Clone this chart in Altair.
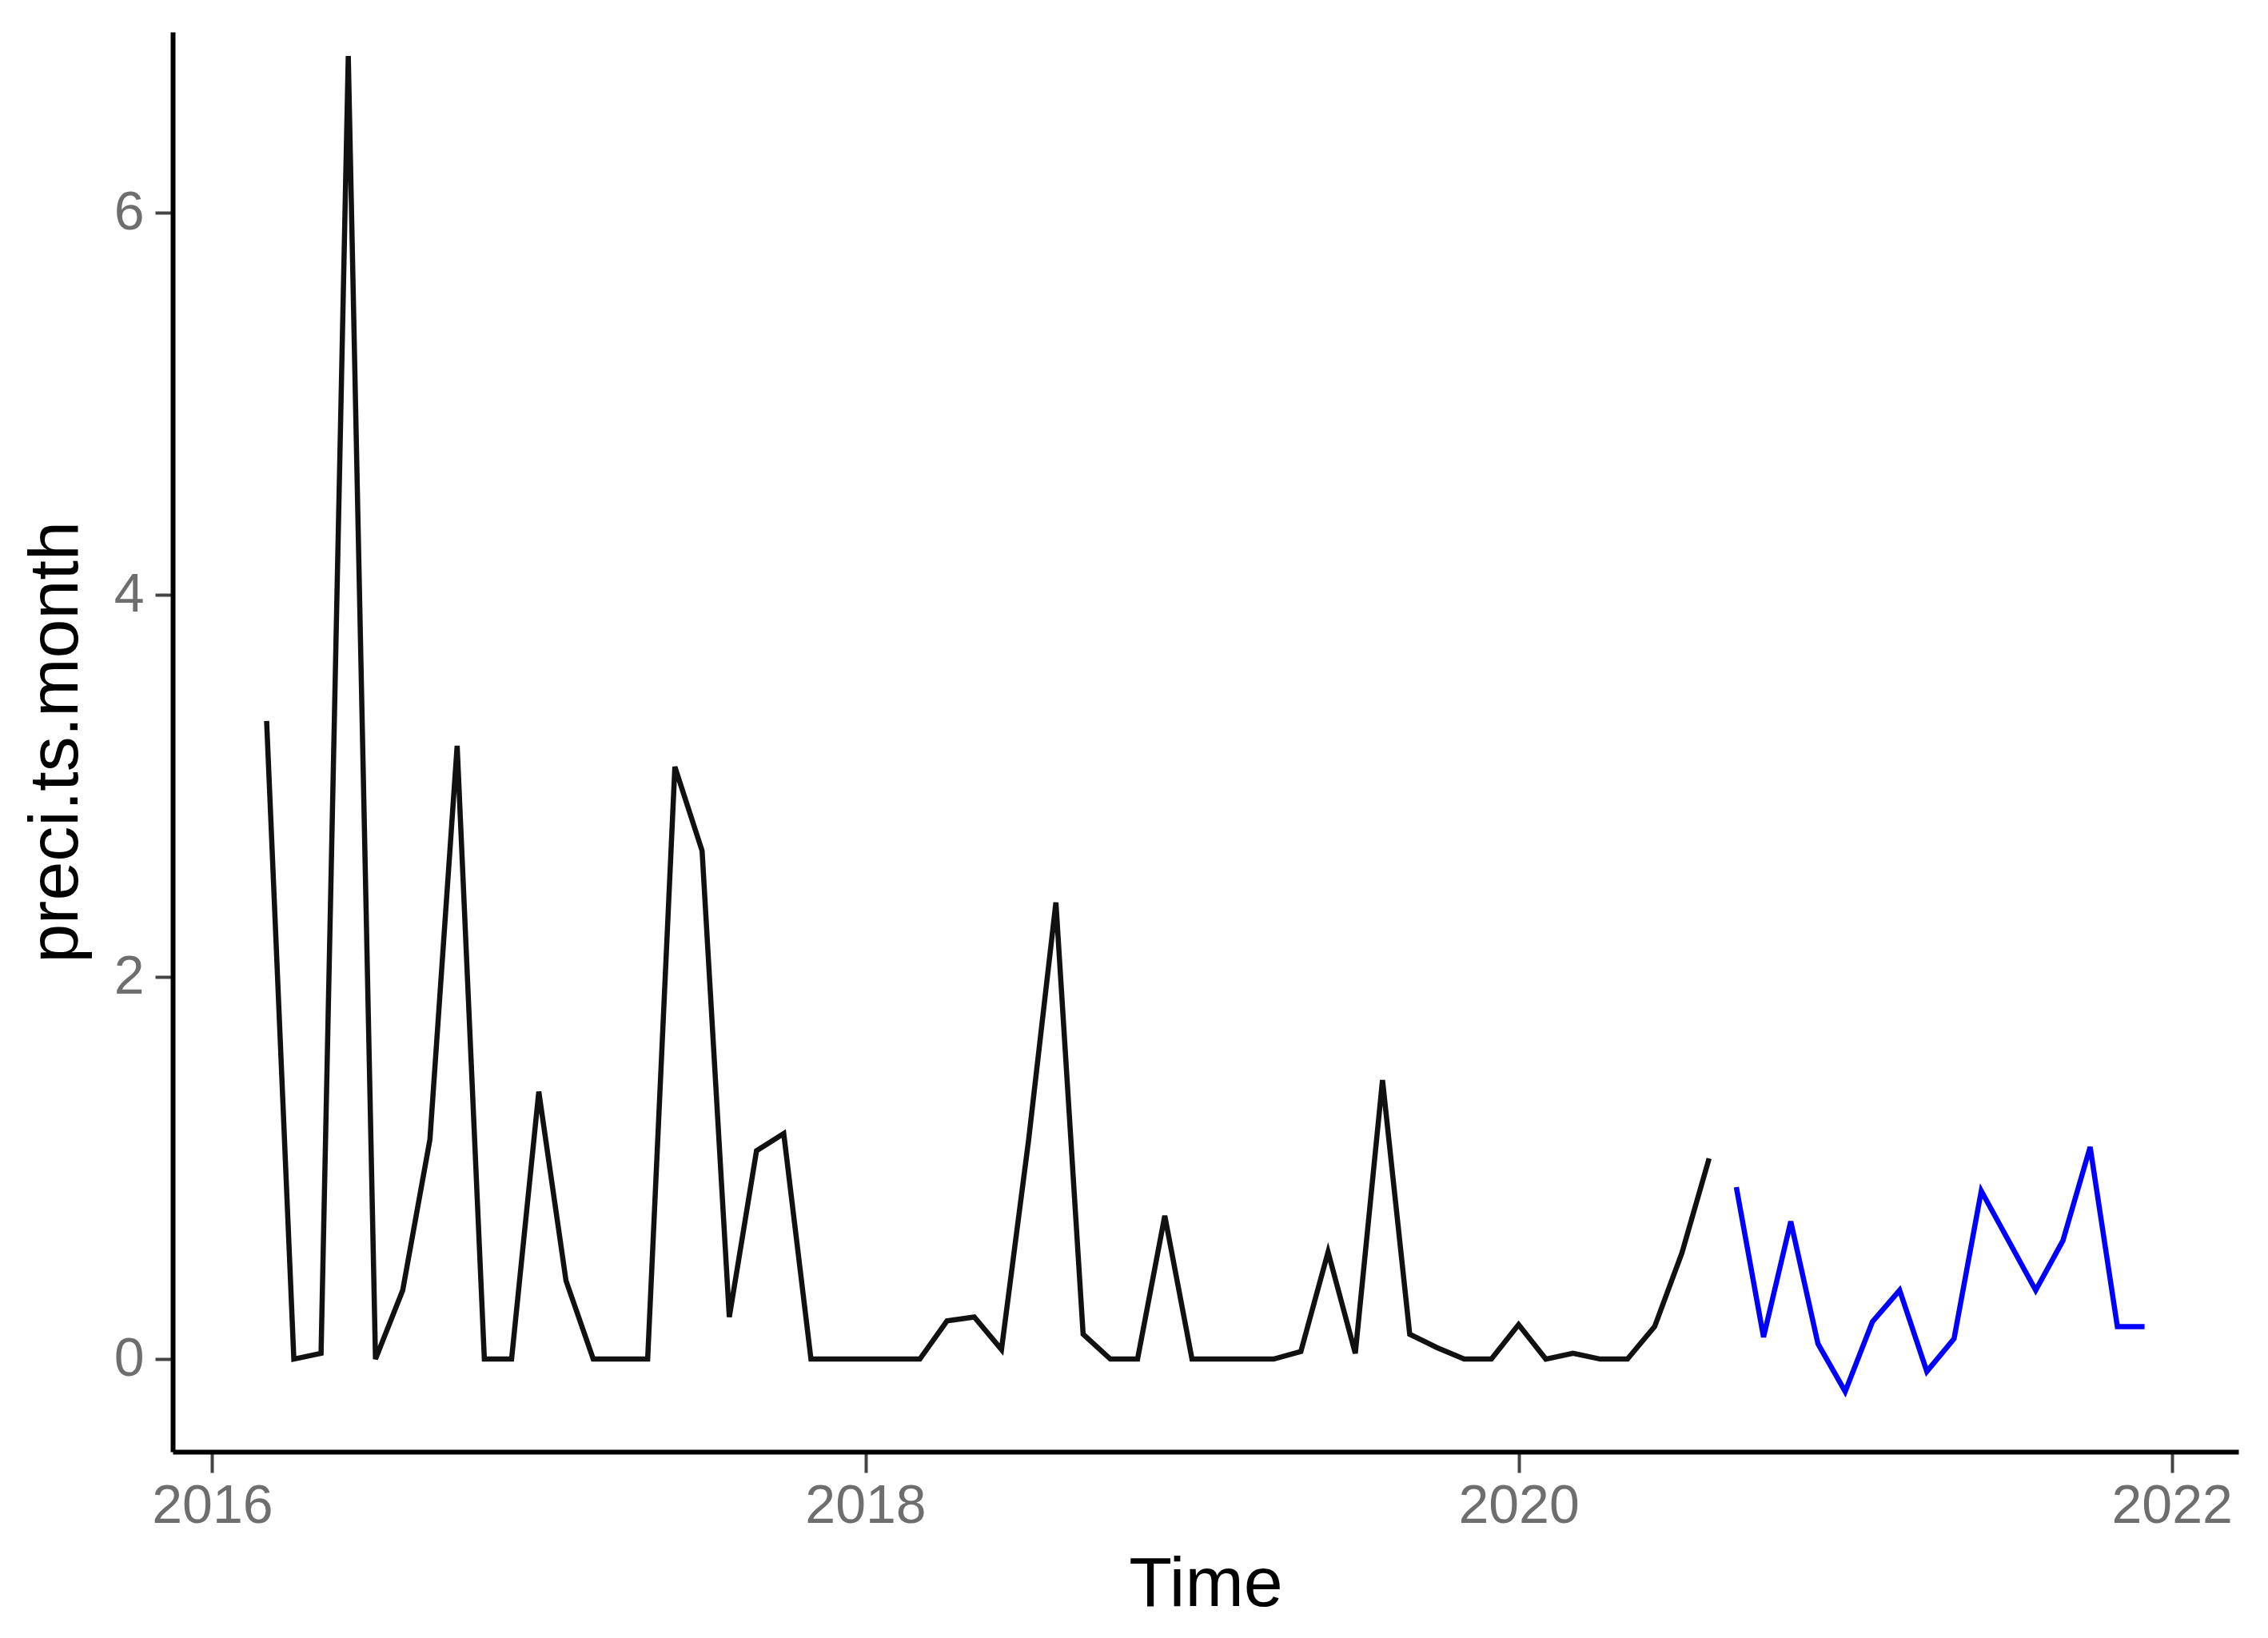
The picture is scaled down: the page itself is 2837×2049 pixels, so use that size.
import altair as alt
import pandas as pd

# observed monthly series (ts starting March 2016, frequency 12)
obs_start_year, obs_start_month = 2016, 3
obs_values = [
    3.34, 0.00, 0.03, 6.82, 0.00, 0.36, 1.15, 3.21, 0.00, 0.00,
    1.40, 0.41, 0.00, 0.00, 0.00, 3.10, 2.66, 0.22, 1.09, 1.18, 0.00, 0.00,
    0.00, 0.00, 0.00, 0.20, 0.22, 0.05, 1.15, 2.39, 0.13, 0.00, 0.00, 0.75,
    0.00, 0.00, 0.00, 0.00, 0.04, 0.56, 0.03, 1.46, 0.13, 0.06, 0.00, 0.00,
    0.18, 0.00, 0.03, 0.00, 0.00, 0.17, 0.555, 1.05,
]

# forecast series (starting September 2020)
fc_start_year, fc_start_month = 2020, 9
fc_values = [
    0.90, 0.115, 0.72, 0.08, -0.17, 0.195, 0.36, -0.065,
    0.107, 0.88, 0.62, 0.36, 0.62, 1.11, 0.17, 0.17,
]

x_ticks = [2016, 2018, 2020, 2022]
y_ticks = [0, 2, 4, 6]
x_domain = [2015.879, 2022.204]
y_domain = [-0.485, 6.946]


def ts_frame(start_year, start_month, values, name):
    t0 = start_year + (start_month - 1) / 12
    return pd.DataFrame({
        "time": [t0 + i / 12 for i in range(len(values))],
        "value": values,
        "series": name,
    })


df_obs = ts_frame(obs_start_year, obs_start_month, obs_values, "observed")
df_fc = ts_frame(fc_start_year, fc_start_month, fc_values, "forecast")

FONT = "Liberation Sans"
LABEL_COLOR = "#6e6e6e"

x_enc = alt.X(
    "time:Q",
    scale=alt.Scale(domain=x_domain, nice=False, zero=False),
    axis=alt.Axis(
        values=x_ticks, format="d", title="Time", grid=False,
        labelFontSize=68, labelColor=LABEL_COLOR, labelFont=FONT,
        labelPadding=8, tickSize=26, tickWidth=4, tickColor="#444444",
        domainColor="#000000", domainWidth=6,
        titleFontSize=88, titleFontWeight="normal", titleColor="#000000",
        titleFont=FONT, titlePadding=20,
    ),
)
y_enc = alt.Y(
    "value:Q",
    scale=alt.Scale(domain=y_domain, nice=False, zero=False),
    axis=alt.Axis(
        values=y_ticks, format="d", title="preci.ts.month", grid=False,
        labelFontSize=68, labelColor=LABEL_COLOR, labelFont=FONT,
        labelPadding=14, tickSize=22, tickWidth=4, tickColor="#444444",
        domainColor="#000000", domainWidth=6,
        titleFontSize=88, titleFontWeight="normal", titleColor="#000000",
        titleFont=FONT, titlePadding=28,
    ),
)

obs_line = alt.Chart(df_obs).mark_line(color="#111111", strokeWidth=6.5).encode(
    x=x_enc, y=y_enc
)
fc_line = alt.Chart(df_fc).mark_line(color="#0000FF", strokeWidth=6.5).encode(
    x="time:Q", y="value:Q"
)

chart = (
    alt.layer(obs_line, fc_line)
    .properties(
        width=2584,
        height=1776,
        autosize=alt.AutoSizeParams(type="none"),
        padding={"left": 208, "top": 32, "right": 29, "bottom": 225},
        background="white",
    )
    .configure_view(stroke=None)
)

chart.save("out.html", embed_options={"renderer": "svg", "actions": False})
